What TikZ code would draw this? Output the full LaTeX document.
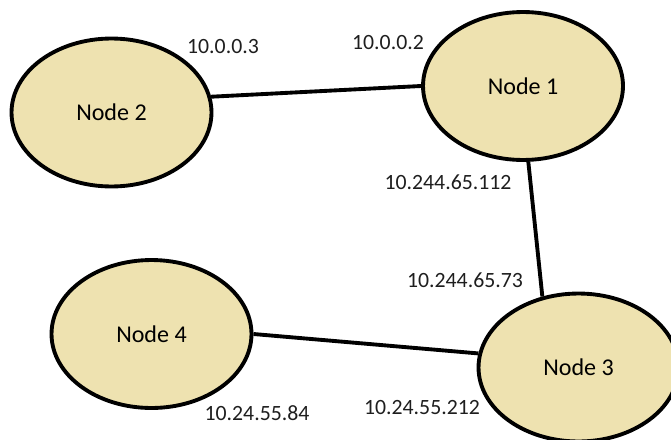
\documentclass[tikz,border=0pt]{standalone}
\usepackage{fontspec}
\setmainfont{Carlito}
\usepackage{tikz}
\usetikzlibrary{shapes.geometric}
\definecolor{hostfill}{RGB}{238,226,176}
\definecolor{addrtext}{RGB}{30,30,30}

\begin{document}
\begin{tikzpicture}[x=0.02cm,y=-0.02cm,
    host/.style={ellipse,draw=black,fill=hostfill,line width=2.2pt,inner sep=0pt,
        minimum width=4cm,minimum height=2.96cm,font=\fontsize{13.7}{16}\selectfont},
    addr/.style={text=addrtext,inner sep=0pt,font=\fontsize{12.4}{15}\selectfont},
    link/.style={black,line width=2.2pt}]
            \useasboundingbox(0,0)rectangle(671,439);
            \clip(0,0)rectangle(671,439);
            % Hosts
            \node[host](n1)at(523,86){Node 1};
            \node[host](n2)at(111.5,112.5){Node 2};
            \node[host](n3)at(578.5,367.5){Node 3};
            \node[host](n4)at(151.5,334){Node 4};
            % Links
            \draw[link](n2.9)--(n1.180);
            \draw[link](n1.274)--(n3.117);
            \draw[link](n4.0)--(n3.172);
            % Addresses
            \node[addr](a23)at(223,47){10.0.0.3};
            \node[addr](a12)at(388,43){10.0.0.2};
            \node[addr](a13)at(448,182){10.244.65.112};
            \node[addr](a31)at(465,280){10.244.65.73};
            \node[addr](a43)at(257,413){10.24.55.84};
            \node[addr](a34)at(422,408){10.24.55.212};
        \end{tikzpicture}
\end{document}
